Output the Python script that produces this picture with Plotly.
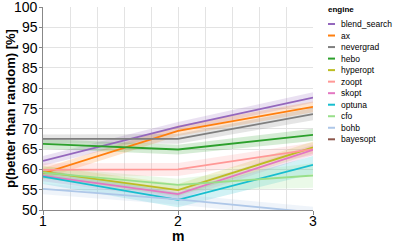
import plotly.graph_objects as go

# ---- data ----
m_values = [1, 2, 3]
engines = ["blend_search", "ax", "nevergrad", "hebo", "hyperopt", "zoopt",
           "skopt", "optuna", "cfo", "bohb", "bayesopt"]
colors = ["#9467bd", "#ff7f0e", "#7f7f7f", "#2ca02c", "#bcbd22", "#ff9896",
          "#e377c2", "#17becf", "#98df8a", "#aec7e8", "#8c564b"]
y_ticks = [50, 55, 60, 65, 70, 75, 80, 85, 90, 95, 100]
x_ticks = [1, 2, 3]

blend_search_mean = [62.1, 70.5, 77.7]
blend_search_lo = [60.9, 69.3, 76.4]
blend_search_hi = [63.3, 71.7, 79.0]

ax_mean = [59.0, 69.5, 75.4]
ax_lo = [57.7, 68.2, 74.1]
ax_hi = [60.3, 70.8, 76.7]

nevergrad_mean = [67.5, 67.5, 73.6]
nevergrad_lo = [66.4, 66.3, 72.1]
nevergrad_hi = [68.6, 68.7, 75.1]

hebo_mean = [66.3, 64.9, 68.5]
hebo_lo = [65.1, 63.7, 67.0]
hebo_hi = [67.5, 66.1, 70.0]

hyperopt_mean = [59.4, 54.9, 65.4]
hyperopt_lo = [57.9, 53.4, 63.9]
hyperopt_hi = [60.9, 56.4, 66.9]

zoopt_mean = [59.9, 60.0, 65.0]
zoopt_lo = [58.3, 58.4, 63.4]
zoopt_hi = [61.5, 61.6, 66.6]

skopt_mean = [58.4, 53.9, 64.8]
skopt_lo = [57.1, 52.6, 63.5]
skopt_hi = [59.7, 55.2, 66.1]

optuna_mean = [58.2, 52.5, 61.1]
optuna_lo = [56.4, 50.7, 58.9]
optuna_hi = [60.0, 54.3, 63.3]

cfo_mean = [59.2, 56.2, 58.5]
cfo_lo = [57.7, 54.7, 55.5]
cfo_hi = [60.7, 57.7, 61.5]

bohb_mean = [55.2, 52.6, 49.4]
bohb_lo = [53.9, 51.3, 48.0]
bohb_hi = [56.5, 53.9, 50.8]

bayesopt_mean = [None, None, None]
bayesopt_lo = [None, None, None]
bayesopt_hi = [None, None, None]

series = {
    "blend_search": (blend_search_mean, blend_search_lo, blend_search_hi),
    "ax": (ax_mean, ax_lo, ax_hi),
    "nevergrad": (nevergrad_mean, nevergrad_lo, nevergrad_hi),
    "hebo": (hebo_mean, hebo_lo, hebo_hi),
    "hyperopt": (hyperopt_mean, hyperopt_lo, hyperopt_hi),
    "zoopt": (zoopt_mean, zoopt_lo, zoopt_hi),
    "skopt": (skopt_mean, skopt_lo, skopt_hi),
    "optuna": (optuna_mean, optuna_lo, optuna_hi),
    "cfo": (cfo_mean, cfo_lo, cfo_hi),
    "bohb": (bohb_mean, bohb_lo, bohb_hi),
    "bayesopt": (bayesopt_mean, bayesopt_lo, bayesopt_hi),
}

FONT = "Arial, Liberation Sans, sans-serif"


def rgba(hexc, a):
    h = hexc.lstrip("#")
    r, g, b = int(h[0:2], 16), int(h[2:4], 16), int(h[4:6], 16)
    return f"rgba({r},{g},{b},{a})"


fig = go.Figure()

# bands
for name, col in zip(engines, colors):
    mean, lo, hi = series[name]
    if all(v is None for v in mean):
        continue
    fig.add_trace(go.Scatter(
        x=m_values + m_values[::-1], y=hi + lo[::-1],
        fill="toself", fillcolor=rgba(col, 0.2), line=dict(width=0),
        mode="lines", hoverinfo="skip", showlegend=False))

# lines
for name, col in zip(engines, colors):
    mean, lo, hi = series[name]
    if all(v is None for v in mean):
        continue
    fig.add_trace(go.Scatter(
        x=m_values, y=mean, mode="lines", name=name,
        line=dict(color=col, width=1.8), showlegend=False))

# ---- layout geometry (pixels) ----
W, H = 395, 247
L, R, T, B = 43, 82, 7, 37
pw, ph = W - L - R, H - T - B


def px_x(px):
    return (px - L) / pw


def px_y(py):
    return (H - B - py) / ph


shapes = []
annotations = []

# tick labels (placed on the axes' data scale)
for v in x_ticks:
    annotations.append(dict(
        x=v, y=px_y(221), xref="x", yref="paper", text=str(v), showarrow=False,
        xanchor="center", yanchor="middle",
        font=dict(family=FONT, size=14, color="#000")))
for v in y_ticks:
    annotations.append(dict(
        x=px_x(40), y=v, xref="paper", yref="y", text=str(v), showarrow=False,
        xanchor="right", yanchor="middle", xshift=0,
        font=dict(family=FONT, size=14, color="#000")))

# axis titles
annotations.append(dict(
    x=px_x(178), y=px_y(236), xref="paper", yref="paper",
    text="<b>m</b>", showarrow=False, xanchor="center", yanchor="middle",
    font=dict(family=FONT, size=14, color="#000")))
annotations.append(dict(
    x=px_x(10), y=px_y(109), xref="paper", yref="paper", textangle=-90,
    text="<b>p(better than random) [%]</b>", showarrow=False,
    xanchor="center", yanchor="middle",
    font=dict(family=FONT, size=13, color="#000")))

# manual legend
annotations.append(dict(
    x=px_x(326), y=px_y(10), xref="paper", yref="paper",
    text="<b>engine</b>", showarrow=False, xanchor="left", yanchor="middle",
    font=dict(family=FONT, size=8, color="#000")))
for i, (name, col) in enumerate(zip(engines, colors)):
    yy = 24 + i * 11.53
    shapes.append(dict(type="line", xref="paper", yref="paper",
                       x0=px_x(328), x1=px_x(335), y0=px_y(yy), y1=px_y(yy),
                       line=dict(color=col, width=2)))
    annotations.append(dict(
        x=px_x(339), y=px_y(yy), xref="paper", yref="paper",
        text=name, showarrow=False, xanchor="left", yanchor="middle",
        font=dict(family=FONT, size=8.5, color="#000")))

fig.update_layout(
    width=W, height=H,
    margin=dict(l=L, r=R, t=T, b=B, pad=0, autoexpand=False),
    paper_bgcolor="white", plot_bgcolor="white",
    showlegend=False,
    shapes=shapes, annotations=annotations,
    font=dict(family=FONT, color="#000"),
)

fig.update_xaxes(
    range=[1, 3], tickvals=x_ticks, showticklabels=False,
    automargin=False,
    showgrid=True, gridcolor="#e3e3e3", gridwidth=1,
    minor=dict(dtick=0.2, tick0=1, showgrid=True, gridcolor="#e3e3e3", gridwidth=1),
    showline=True, linecolor="#888", linewidth=1,
    ticks="outside", ticklen=4, tickcolor="#888",
    zeroline=False,
)
fig.update_yaxes(
    range=[50, 100], tickvals=y_ticks, showticklabels=False,
    automargin=False,
    showgrid=True, gridcolor="#e3e3e3", gridwidth=1,
    showline=True, linecolor="#888", linewidth=1,
    ticks="outside", ticklen=3, tickcolor="#888",
    zeroline=False,
)

fig.write_html("out.html", config={"displayModeBar": False},
               post_script="document.body.style.margin='0';document.body.style.padding='0';")
